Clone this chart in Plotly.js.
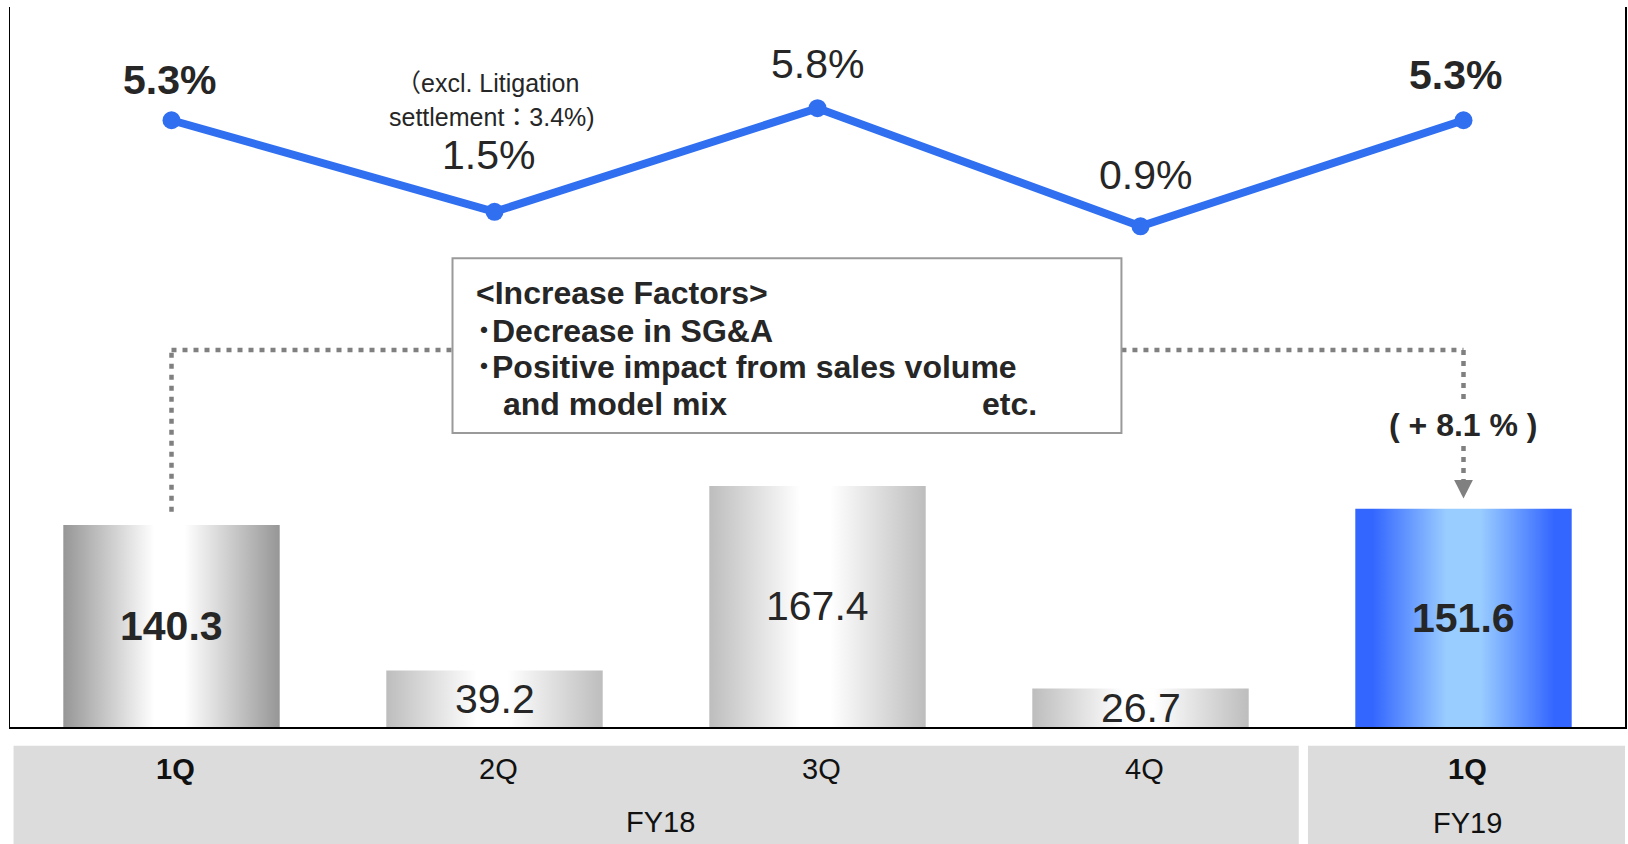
<!DOCTYPE html>
<html>
<head>
<meta charset="utf-8">
<script src="https://cdn.plot.ly/plotly-3.0.1.min.js"></script>
<style>
  html, body { margin: 0; padding: 0; background: #fff; }
  #chart { width: 1628px; height: 844px; }
</style>
</head>
<body>
<div id="chart"></div>
<script>
// Quarterly operating income (bars) and operating margin (line)
const quarters = ['1Q', '2Q', '3Q', '4Q', '1Q'];
const fiscalYears = ['FY18', 'FY18', 'FY18', 'FY18', 'FY19'];
const income = [140.3, 39.2, 167.4, 26.7, 151.6];
const marginPct = [5.3, 1.5, 5.8, 0.9, 5.3];
const highlight = [true, false, false, false, true];
const yoyChange = '( + 8.1 % )';
const litigationNote = ['（excl. Litigation', 'settlement：3.4%)'];
const factorTitle = '<Increase Factors>';
const factorItems = ['･Decrease in SG&A', '･Positive impact from sales volume'];
const factorCont = 'and model mix';
const factorEtc = 'etc.';

const FONT = "'Liberation Sans', Arial, 'Noto Sans CJK JP', sans-serif";
const TEXT = '#262626';
const BLUE = '#306ff0';
const idx = quarters.map((q, i) => i);

// bar gradient (edge colour, centre colour) per bar
const barShade = [
  ['#969696', '#ffffff'],
  ['#bdbdbd', '#ffffff'],
  ['#bdbdbd', '#ffffff'],
  ['#bdbdbd', '#ffffff'],
  ['#3366ff', '#99ccff']
];

function esc(s) {
  return s.replace(/&/g, '&amp;').replace(/</g, '&lt;').replace(/>/g, '&gt;');
}
function bold(s, on) { return on ? '<b>' + s + '</b>' : s; }

const barTrace = {
  type: 'bar',
  x: idx,
  y: income,
  marker: { color: barShade.map(c => c[0]), line: { width: 0 } },
  hoverinfo: 'none',
  yaxis: 'y'
};

const lineTrace = {
  type: 'scatter',
  mode: 'lines+markers',
  x: idx,
  y: marginPct,
  yaxis: 'y2',
  line: { color: BLUE, width: 8 },
  marker: { color: BLUE, size: 18 },
  cliponaxis: false,
  hoverinfo: 'none'
};

const annotations = [];

// values inside bars
income.forEach((v, i) => {
  annotations.push({
    x: i, y: v / 2, xref: 'x', yref: 'y',
    text: bold(v.toFixed(1), highlight[i]),
    showarrow: false,
    font: { family: FONT, size: 41, color: TEXT }
  });
});

// margin labels above points
const lblShift = [[-2.5, 40], [-6.5, 57], [0, 44], [5, 51], [-8, 45]];
marginPct.forEach((v, i) => {
  annotations.push({
    x: i, y: v, xref: 'x', yref: 'y2',
    text: bold(v.toFixed(1) + '%', highlight[i]),
    showarrow: false,
    xshift: lblShift[i][0], yshift: lblShift[i][1],
    font: { family: FONT, size: 41, color: TEXT }
  });
});

// litigation note over 2Q
[[-7.5, 128.6], [-3, 94.6]].forEach((s, k) => {
  annotations.push({
    x: 1, y: marginPct[1], xref: 'x', yref: 'y2',
    text: litigationNote[k],
    showarrow: false,
    xshift: s[0], yshift: s[1],
    font: { family: FONT, size: 25, color: TEXT }
  });
});

// category labels in the grey band
quarters.forEach((q, i) => {
  annotations.push({
    x: i, y: -0.0583, xref: 'x', yref: 'paper',
    xanchor: 'center', yanchor: 'middle',
    text: bold(q, highlight[i]),
    showarrow: false, xshift: 4,
    font: { family: FONT, size: 29, color: '#111111' }
  });
});
[...new Set(fiscalYears)].forEach(fy => {
  const members = idx.filter(i => fiscalYears[i] === fy);
  const mid = members.reduce((a, b) => a + b, 0) / members.length;
  annotations.push({
    x: mid, y: fy === 'FY18' ? -0.132 : -0.134, xref: 'x', yref: 'paper',
    xanchor: 'center', yanchor: 'middle',
    text: fy,
    showarrow: false, xshift: 4,
    font: { family: FONT, size: 29, color: '#111111' }
  });
});

// increase factors box text
const boxFont = { family: FONT, size: 32, color: TEXT };
[[factorTitle, 0.9365, 301.7], [factorItems[0], 0.9365, 275.3], [factorItems[1], 0.9365, 250.0],
 [factorCont, 1.0186, 224.0], [factorEtc, 2.5046, 224.0]].forEach(r => {
  annotations.push({
    x: r[1], y: r[2], xref: 'x', yref: 'y',
    text: '<b>' + esc(r[0]) + '</b>',
    xanchor: 'left', showarrow: false,
    font: boxFont
  });
});

// year-on-year change label
annotations.push({
  x: 4, y: 209.7, xref: 'x', yref: 'y',
  text: '<b>' + yoyChange + '</b>',
  showarrow: false,
  font: { family: FONT, size: 32, color: TEXT }
});

// connectors and box
const DOT = { color: '#808080', width: 4.5, dash: '5px,6px' };
const boxX0 = 0.870, boxX1 = 2.941, boxY0 = 204.2, boxY1 = 325.5;
const linkY = 261.8;
const tipY = income[4] + 7;
const headW = 0.029;

const shapes = [
  { type: 'rect', xref: 'paper', yref: 'paper', x0: 0.0022, x1: 0.798, y0: -0.17, y1: -0.026,
    fillcolor: '#dcdcdc', line: { width: 0 }, layer: 'below' },
  { type: 'rect', xref: 'paper', yref: 'paper', x0: 0.8037, x1: 1.0, y0: -0.17, y1: -0.026,
    fillcolor: '#dcdcdc', line: { width: 0 }, layer: 'below' },
  { type: 'line', xref: 'x', yref: 'y', x0: 0, x1: 0, y0: income[0] + 9.2, y1: linkY, line: DOT },
  { type: 'line', xref: 'x', yref: 'y', x0: 0, x1: boxX0, y0: linkY, y1: linkY, line: DOT },
  { type: 'line', xref: 'x', yref: 'y', x0: boxX1, x1: 4, y0: linkY, y1: linkY, line: DOT },
  { type: 'line', xref: 'x', yref: 'y', x0: 4, x1: 4, y0: linkY, y1: 227.8, line: DOT },
  { type: 'line', xref: 'x', yref: 'y', x0: 4, x1: 4, y0: 195.1, y1: tipY + 13, line: DOT },
  { type: 'path', xref: 'x', yref: 'y',
    path: `M ${4 - headW},${tipY + 13} L ${4 + headW},${tipY + 13} L 4,${tipY} Z`,
    fillcolor: '#808080', line: { width: 0 } },
  { type: 'rect', xref: 'x', yref: 'y', x0: boxX0, x1: boxX1, y0: boxY0, y1: boxY1,
    fillcolor: '#ffffff', line: { color: '#9a9a9a', width: 2 } }
];

const layout = {
  width: 1628,
  height: 844,
  margin: { l: 10, r: 3, t: 7, b: 117 },
  paper_bgcolor: '#ffffff',
  plot_bgcolor: '#ffffff',
  showlegend: false,
  bargap: 0.33,
  font: { family: FONT, color: TEXT },
  xaxis: { range: [-0.5, 4.5], showticklabels: false, ticks: '', showgrid: false, zeroline: false,
           showline: true, linecolor: '#000000', linewidth: 1.5 },
  yaxis: { range: [0, 500], showticklabels: false, ticks: '', showgrid: false, zeroline: false,
           showline: true, linecolor: '#000000', linewidth: 1.5 },
  yaxis2: { range: [-19.88, 10], overlaying: 'y', side: 'right', showticklabels: false, ticks: '',
            showgrid: false, zeroline: false, showline: true, linecolor: '#000000', linewidth: 1.5 },
  shapes: shapes,
  annotations: annotations
};

// Plotly has no gradient bar fill, so swap the fills for svg gradients after drawing
function applyGradients(gd) {
  const ns = 'http://www.w3.org/2000/svg';
  const defs = gd.querySelector('.main-svg defs');
  barShade.forEach((c, i) => {
    const g = document.createElementNS(ns, 'linearGradient');
    g.setAttribute('id', 'barGrad' + i);
    g.setAttribute('x1', '0'); g.setAttribute('x2', '1');
    g.setAttribute('y1', '0'); g.setAttribute('y2', '0');
    const stops = i === 4
      ? [[0, c[0]], [0.08, c[0]], [0.42, c[1]], [0.58, c[1]], [0.92, c[0]], [1, c[0]]]
      : [[0, c[0]], [0.42, c[1]], [0.56, c[1]], [1, c[0]]];
    stops.forEach(s => {
      const st = document.createElementNS(ns, 'stop');
      st.setAttribute('offset', s[0]);
      st.setAttribute('stop-color', s[1]);
      g.appendChild(st);
    });
    defs.appendChild(g);
  });
  gd.querySelectorAll('.barlayer .point path').forEach((p, i) => {
    p.style.fill = 'url(#barGrad' + i + ')';
  });
}

Plotly.newPlot('chart', [barTrace, lineTrace], layout, { staticPlot: true })
  .then(applyGradients);
</script>
</body>
</html>
